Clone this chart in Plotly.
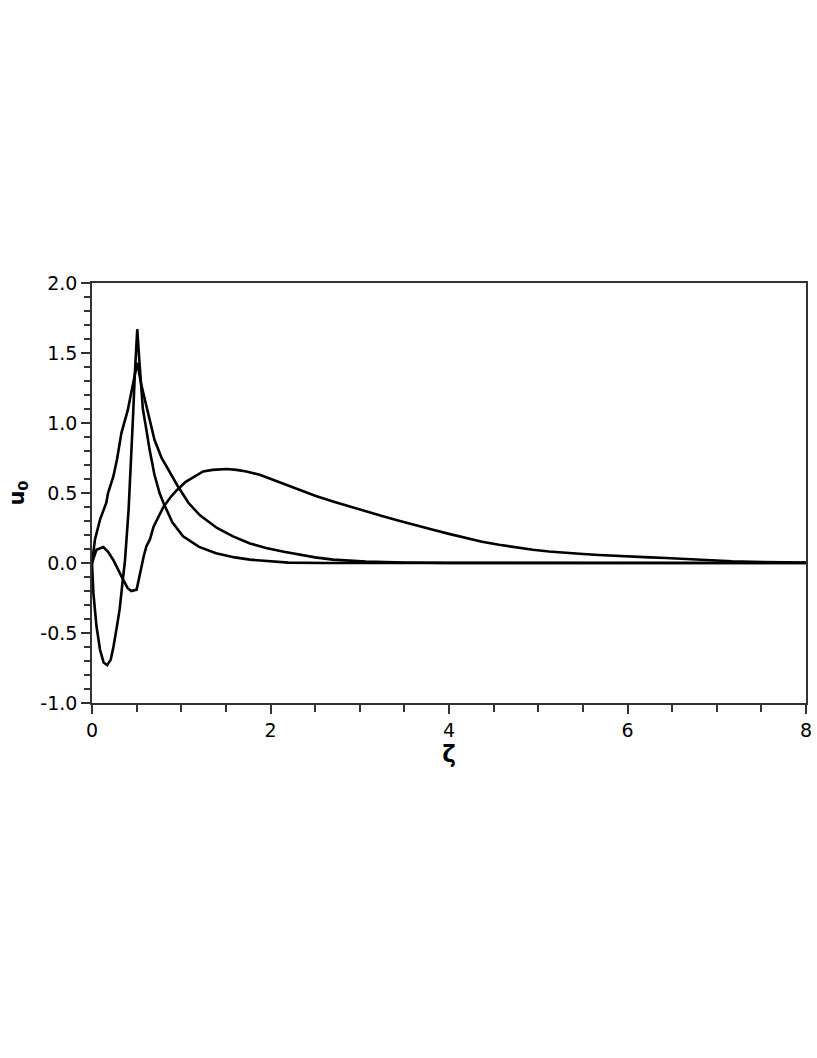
import plotly.graph_objects as go

# Curve A (sharp peak ~1.67)
a_x = [0, 0.015, 0.05, 0.09, 0.13, 0.17, 0.21, 0.24, 0.28, 0.31, 0.34, 0.37, 0.41, 0.44, 0.46, 0.48, 0.507,
       0.53, 0.57, 0.61, 0.645, 0.70, 0.757, 0.80, 0.90, 1.02, 1.20, 1.39, 1.60, 1.77, 2.0, 2.2, 2.6, 8.0]
a_y = [0, -0.21, -0.45, -0.62, -0.71, -0.73, -0.69, -0.60, -0.45, -0.33, -0.15, 0.02, 0.38, 0.75, 1.05, 1.35, 1.67,
       1.45, 1.10, 0.95, 0.81, 0.63, 0.50, 0.43, 0.29, 0.19, 0.115, 0.07, 0.04, 0.024, 0.01, 0.003, 0.0, 0.0]

# Curve B (peak ~1.43)
b_x = [0, 0.034, 0.09, 0.16, 0.18, 0.24, 0.28, 0.33, 0.40, 0.45, 0.507, 0.55, 0.59, 0.65, 0.70, 0.78, 0.85,
       0.96, 1.08, 1.21, 1.40, 1.58, 1.77, 1.95, 2.15, 2.33, 2.5, 2.7, 3.07, 3.5, 4.0, 8.0]
b_y = [0, 0.17, 0.31, 0.43, 0.50, 0.62, 0.74, 0.93, 1.09, 1.25, 1.43, 1.28, 1.17, 1.00, 0.88, 0.75, 0.67,
       0.55, 0.43, 0.34, 0.25, 0.19, 0.14, 0.107, 0.08, 0.06, 0.04, 0.024, 0.01, 0.004, 0.001, 0.0]

# Curve C (broad peak ~0.67)
c_x = [0, 0.05, 0.127, 0.18, 0.24, 0.30, 0.35, 0.40, 0.44, 0.50, 0.52, 0.54, 0.58, 0.61, 0.65, 0.69, 0.75,
       0.80, 0.88, 0.95, 1.05, 1.15, 1.245, 1.35, 1.51, 1.62, 1.73, 1.88, 2.03, 2.18, 2.33, 2.5, 2.7, 2.9,
       3.07, 3.25, 3.45, 3.63, 3.82, 4.0, 4.19, 4.37, 4.56, 4.75, 4.94, 5.12, 5.31, 5.5, 5.68, 5.87, 6.06,
       6.25, 6.43, 6.6, 6.8, 7.0, 7.17, 7.4, 7.6, 7.84, 8.0]
c_y = [0, 0.095, 0.114, 0.08, 0.02, -0.06, -0.12, -0.18, -0.20, -0.19, -0.13, -0.05, 0.05, 0.12, 0.17, 0.26, 0.34,
       0.40, 0.47, 0.52, 0.58, 0.62, 0.654, 0.665, 0.671, 0.665, 0.654, 0.63, 0.595, 0.56, 0.52, 0.48, 0.44, 0.40,
       0.37, 0.335, 0.30, 0.268, 0.238, 0.208, 0.178, 0.152, 0.13, 0.11, 0.095, 0.082, 0.071, 0.064, 0.057, 0.05, 0.045,
       0.04, 0.036, 0.03, 0.024, 0.018, 0.012, 0.008, 0.006, 0.005, 0.004]

x_ticks = [0, 2, 4, 6, 8]
y_ticks = [-1.0, -0.5, 0.0, 0.5, 1.0, 1.5, 2.0]

fig = go.Figure()
for xs, ys in [(a_x, a_y), (b_x, b_y), (c_x, c_y)]:
    fig.add_trace(go.Scatter(x=xs, y=ys, mode="lines",
                             line=dict(color="black", width=2.6), showlegend=False))

font = dict(family="DejaVu Sans", size=19, color="black")
fig.update_layout(
    width=817, height=1058, autosize=False,
    margin=dict(l=92, r=5, t=283, b=355),
    plot_bgcolor="white", paper_bgcolor="white",
    font=font,
)
fig.update_xaxes(
    range=[0, 8], tickvals=x_ticks, ticktext=[str(v) for v in x_ticks],
    ticks="outside", ticklen=9, tickwidth=1.5, tickcolor="#333",
    minor=dict(dtick=0.5, ticks="outside", ticklen=7, tickwidth=1.5, tickcolor="#333"),
    showline=True, linecolor="#333", linewidth=1.5, mirror=True,
    showgrid=False, zeroline=False,
    title=dict(text="<b>ζ</b>", font=dict(family="DejaVu Sans", size=23), standoff=6),
)
fig.update_yaxes(
    range=[-1, 2], tickvals=y_ticks, ticktext=[f"{v:.1f}" for v in y_ticks],
    ticks="outside", ticklen=9, tickwidth=1.5, tickcolor="#333",
    minor=dict(dtick=0.1, ticks="outside", ticklen=6, tickwidth=1.5, tickcolor="#333"),
    showline=True, linecolor="#333", linewidth=1.5, mirror=True,
    showgrid=False, zeroline=False,
    title=dict(text="<b>u<sub>0</sub></b>", font=dict(family="DejaVu Sans", size=21), standoff=10),
)

fig.write_html(
    "out.html",
    config={"displayModeBar": False},
    post_script="document.body.style.margin='0';document.body.style.padding='0';"
                "document.body.style.overflow='hidden';document.documentElement.style.overflow='hidden';",
)
